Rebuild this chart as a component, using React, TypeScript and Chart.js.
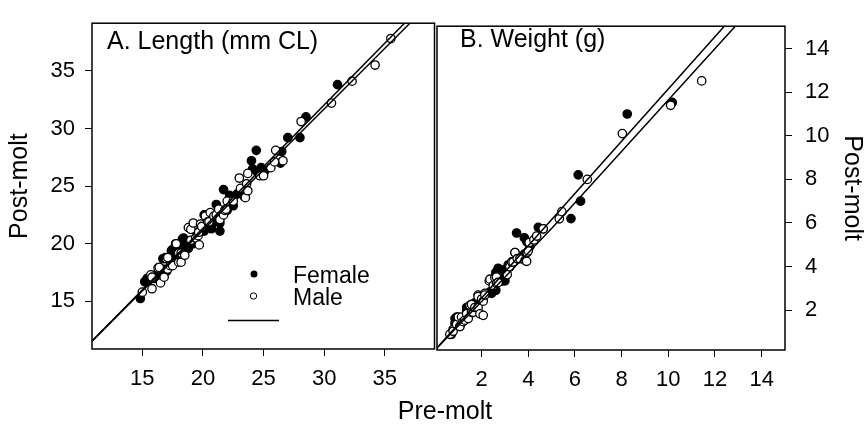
import React, { useEffect, useRef } from "react";
import { Chart, registerables } from "chart.js";

Chart.register(...registerables);

const FONT = '"Liberation Sans", Arial, Helvetica, sans-serif';

// ---------- Panel A: Length (mm CL) ----------
const lengthTicks = [15, 20, 25, 30, 35];

const femaleLengthPre = [14.84, 15.2, 15.3, 15.4, 15.6, 16.0, 16.1, 16.5, 16.7, 16.7, 16.9, 17.0, 17.4, 17.5, 17.6, 17.9, 18.0, 18.2, 18.3, 18.4, 18.6, 18.6, 18.8, 19.0, 19.2, 19.5, 19.8, 20.1, 20.1, 20.2, 20.3, 20.7, 20.7, 21.0, 21.1, 21.4, 21.4, 21.7, 22.0, 22.2, 22.5, 22.8, 23.0, 23.4, 24.0, 24.1, 24.4, 24.5, 24.8, 25.1, 26.4, 26.5, 27.0, 28.0, 28.5, 31.1];
const femaleLengthPost = [15.25, 16.7, 16.7, 17.0, 16.9, 17.0, 17.3, 17.4, 18.7, 17.8, 18.8, 17.6, 19.4, 19.5, 18.9, 19.6, 19.3, 20.0, 20.4, 20.5, 19.9, 19.7, 19.6, 20.2, 20.0, 20.9, 21.2, 22.5, 21.1, 22.5, 21.6, 21.3, 21.5, 22.0, 23.4, 21.8, 21.1, 24.7, 22.9, 24.2, 23.3, 24.3, 24.4, 24.1, 27.2, 26.5, 28.1, 26.2, 26.6, 26.3, 27.0, 28.0, 29.2, 29.2, 31.0, 33.8];

const maleLengthPre = [15.0, 15.7, 15.8, 15.8, 16.3, 16.4, 16.5, 16.8, 17.0, 17.1, 17.1, 17.3, 17.5, 17.75, 17.8, 18.0, 18.0, 18.2, 18.2, 18.5, 18.8, 19.0, 19.0, 19.2, 19.4, 19.6, 19.65, 19.7, 19.8, 19.9, 20.2, 20.4, 20.5, 20.6, 20.9, 21.1, 21.3, 21.4, 21.4, 21.7, 21.8, 21.9, 22.0, 22.5, 23.0, 23.1, 23.5, 23.6, 23.7, 23.7, 24.7, 25.0, 25.6, 25.9, 26.0, 26.6, 28.1, 30.6, 32.3, 34.2, 35.5];
const maleLengthPost = [15.8, 17.3, 16.1, 17.1, 17.9, 17.95, 16.6, 17.1, 18.7, 17.8, 18.8, 18.1, 18.1, 20.0, 20.0, 18.4, 19.2, 19.2, 18.4, 19.0, 21.4, 20.3, 21.25, 21.8, 20.5, 20.7, 21.0, 19.9, 21.7, 21.5, 22.4, 21.9, 21.9, 22.7, 22.4, 22.5, 23.0, 22.2, 22.1, 22.5, 22.9, 23.0, 23.7, 23.7, 25.7, 24.8, 24.0, 25.2, 26.1, 24.6, 25.9, 25.9, 26.6, 27.1, 28.1, 27.2, 30.6, 32.2, 34.1, 35.5, 37.8];

const femaleLengthFitPre = [10.85, 36.6];
const femaleLengthFitPost = [11.55, 39.1];
const maleLengthFitPre = [10.85, 37.05];
const maleLengthFitPost = [11.55, 39.1];

// ---------- Panel B: Weight (g) ----------
const weightXTicks = [2, 4, 6, 8, 10, 12, 14];
const weightYTicks = [2, 4, 6, 8, 10, 12, 14];

const femaleWeightPre = [0.71, 0.86, 0.86, 0.93, 1.1, 1.36, 1.36, 1.64, 1.71, 2.07, 2.36, 2.43, 2.57, 2.61, 2.9, 3.0, 2.61, 2.71, 2.71, 2.86, 3.14, 3.5, 3.83, 3.93, 3.83, 4.07, 4.43, 4.64, 5.83, 6.14, 6.24, 8.24, 10.17];
const femaleWeightPost = [0.89, 1.39, 1.61, 1.68, 1.5, 2.12, 1.97, 2.19, 2.33, 2.55, 2.84, 2.77, 2.91, 2.91, 3.34, 3.34, 3.73, 3.85, 3.92, 3.85, 4.07, 5.54, 5.32, 5.15, 4.57, 4.93, 5.8, 5.73, 6.2, 8.21, 7.0, 11.0, 11.53];

const maleWeightPre = [0.64, 0.78, 0.78, 0.93, 1.0, 1.07, 1.07, 1.14, 1.21, 1.28, 1.36, 1.43, 1.5, 1.57, 1.57, 1.64, 1.71, 1.85, 1.85, 1.85, 1.93, 2.0, 2.07, 2.07, 2.14, 2.14, 2.33, 2.36, 2.5, 2.57, 2.64, 2.64, 2.71, 3.07, 3.1, 3.21, 3.21, 3.29, 3.35, 3.43, 3.43, 3.53, 3.64, 3.86, 3.93, 3.95, 4.0, 4.04, 4.24, 4.36, 4.64, 5.33, 5.44, 6.53, 8.03, 10.1, 11.43];
const maleWeightPost = [0.89, 1.11, 1.03, 1.35, 1.68, 1.25, 1.25, 1.68, 1.47, 1.54, 1.83, 1.61, 2.22, 1.9, 2.26, 1.9, 2.12, 2.69, 2.12, 2.62, 1.83, 2.51, 1.76, 2.41, 2.77, 2.69, 3.34, 3.42, 3.13, 3.49, 3.52, 3.23, 3.27, 3.63, 3.63, 4.04, 3.99, 4.21, 4.21, 4.64, 4.64, 4.36, 4.36, 4.28, 4.24, 4.64, 4.72, 5.1, 5.22, 5.4, 5.73, 6.19, 6.52, 8.0, 10.1, 11.4, 12.52];

const femaleWeightFitPre = [0.08, 12.38];
const femaleWeightFitPost = [0.25, 15.0];
const maleWeightFitPre = [0.08, 5.0, 12.85];
const maleWeightFitPost = [0.25, 5.75, 15.0];

const zip = (xs: number[], ys: number[]) => xs.map((x, i) => ({ x, y: ys[i] }));

const lineDs = (xs: number[], ys: number[]) => ({
  type: "scatter" as const,
  data: zip(xs, ys),
  showLine: true,
  borderColor: "#000",
  borderWidth: 1.5,
  pointRadius: 0,
  fill: false,
});

const pointDs = (xs: number[], ys: number[], filled: boolean) => ({
  type: "scatter" as const,
  data: zip(xs, ys),
  showLine: false,
  pointRadius: 4.2,
  pointBorderWidth: 1.3,
  pointBorderColor: "#000",
  pointBackgroundColor: filled ? "#000" : "#fff",
});

const framePlugin = {
  id: "frame",
  afterDatasetsDraw(chart: any) {
    const { ctx, chartArea } = chart;
    const { left, top, right, bottom } = chartArea;
    ctx.save();
    ctx.strokeStyle = "#000";
    ctx.lineWidth = 1.5;
    ctx.strokeRect(left, top, right - left, bottom - top);
    ctx.restore();
  },
};

const tickFont = { family: FONT, size: 22 };

function makeAxis(
  min: number,
  max: number,
  ticks: number[],
  position: string,
  size: number,
  pad: number,
  title?: { text: string; padding: any }
) {
  const horizontal = position === "bottom";
  return {
    type: "linear",
    position,
    min,
    max,
    afterBuildTicks: (axis: any) => {
      axis.ticks = ticks.map((v) => ({ value: v }));
    },
    afterFit: (axis: any) => {
      if (horizontal) axis.height = size;
      else axis.width = size;
    },
    grid: {
      display: true,
      drawOnChartArea: false,
      drawTicks: true,
      tickLength: 7,
      color: "#000",
      lineWidth: 1,
    },
    border: { display: false },
    ticks: { color: "#000", font: tickFont, padding: pad, maxRotation: 0, autoSkip: false },
    title: title
      ? { display: true, text: title.text, color: "#000", font: { family: FONT, size: 25 }, padding: title.padding }
      : { display: false },
  };
}

function PanelA() {
  const ref = useRef<HTMLCanvasElement | null>(null);
  useEffect(() => {
    const labelPlugin = {
      id: "labelsA",
      afterDraw(chart: any) {
        const ctx = chart.ctx;
        ctx.save();
        ctx.fillStyle = "#000";
        ctx.textBaseline = "alphabetic";
        ctx.font = `25px ${FONT}`;
        ctx.fillText("A. Length (mm CL)", 107, 49);
        ctx.font = `23px ${FONT}`;
        ctx.fillText("Female", 293, 283);
        ctx.fillText("Male", 293, 305);
        ctx.beginPath();
        ctx.arc(254, 274, 3.5, 0, Math.PI * 2);
        ctx.fill();
        ctx.beginPath();
        ctx.arc(253.5, 296, 3.2, 0, Math.PI * 2);
        ctx.fillStyle = "#fff";
        ctx.fill();
        ctx.strokeStyle = "#000";
        ctx.lineWidth = 1;
        ctx.stroke();
        ctx.beginPath();
        ctx.lineWidth = 1.5;
        ctx.moveTo(228, 320.5);
        ctx.lineTo(279, 320.5);
        ctx.stroke();
        ctx.restore();
      },
    };
    const chart = new Chart(ref.current as HTMLCanvasElement, {
      type: "scatter",
      data: {
        datasets: [
          lineDs(femaleLengthFitPre, femaleLengthFitPost),
          lineDs(maleLengthFitPre, maleLengthFitPost),
          pointDs(maleLengthPre, maleLengthPost, false),
          pointDs(femaleLengthPre, femaleLengthPost, true),
        ] as any,
      },
      options: {
        animation: false,
        responsive: false,
        layout: { padding: { top: 7, right: 2, left: 0, bottom: 0 } },
        plugins: { legend: { display: false }, tooltip: { enabled: false } },
        scales: {
          x: makeAxis(10.85, 39.1, lengthTicks, "bottom", 80, 10),
          y: makeAxis(10.87, 39.13, lengthTicks, "left", 92, 10, {
            text: "Post-molt",
            padding: { top: 5, bottom: 0 },
          }),
        } as any,
      },
      plugins: [framePlugin, labelPlugin],
    });
    return () => chart.destroy();
  }, []);
  return (
    <canvas
      ref={ref}
      width={440}
      height={429}
      style={{ position: "absolute", left: 0, top: 0, width: 440, height: 429 }}
    />
  );
}

function PanelB() {
  const ref = useRef<HTMLCanvasElement | null>(null);
  useEffect(() => {
    const labelPlugin = {
      id: "labelsB",
      afterDraw(chart: any) {
        const ctx = chart.ctx;
        ctx.save();
        ctx.fillStyle = "#000";
        ctx.textBaseline = "alphabetic";
        ctx.font = `25px ${FONT}`;
        ctx.fillText("B. Weight (g)", 30, 47);
        ctx.restore();
      },
    };
    const chart = new Chart(ref.current as HTMLCanvasElement, {
      type: "scatter",
      data: {
        datasets: [
          lineDs(femaleWeightFitPre, femaleWeightFitPost),
          lineDs(maleWeightFitPre, maleWeightFitPost),
          pointDs(maleWeightPre, maleWeightPost, false),
          pointDs(femaleWeightPre, femaleWeightPost, true),
        ] as any,
      },
      options: {
        animation: false,
        responsive: false,
        layout: { padding: { top: 7, right: 0, left: 7, bottom: 0 } },
        plugins: { legend: { display: false }, tooltip: { enabled: false } },
        scales: {
          x: makeAxis(0.09, 15.0, weightXTicks, "bottom", 79, 10),
          y: makeAxis(0.17, 15.03, weightYTicks, "right", 82, 13, {
            text: "Post-molt",
            padding: { top: 0, bottom: 0 },
          }),
        } as any,
      },
      plugins: [framePlugin, labelPlugin],
    });
    return () => chart.destroy();
  }, []);
  return (
    <canvas
      ref={ref}
      width={437}
      height={429}
      style={{ position: "absolute", left: 430, top: 0, width: 437, height: 429 }}
    />
  );
}

export default function App() {
  return (
    <div
      style={{
        position: "fixed",
        left: 0,
        top: 0,
        width: 867,
        height: 429,
        background: "#fff",
        overflow: "hidden",
      }}
    >
      <PanelA />
      <PanelB />
      <div
        style={{
          position: "absolute",
          left: 345,
          top: 398,
          width: 200,
          textAlign: "center",
          fontFamily: FONT,
          fontSize: 25,
          lineHeight: "25px",
          color: "#000",
        }}
      >
        Pre-molt
      </div>
    </div>
  );
}
